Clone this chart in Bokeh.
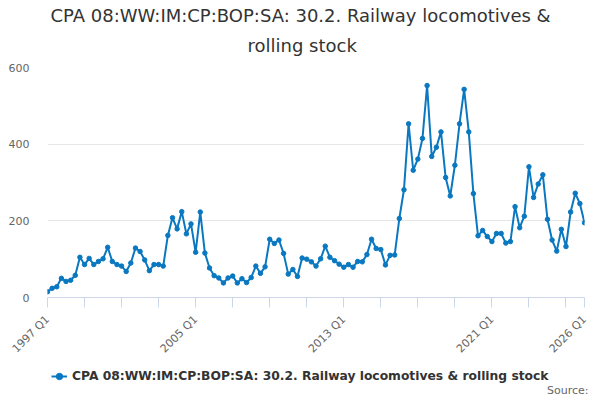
import math
from bokeh.plotting import figure
from bokeh.layouts import column
from bokeh.models import FixedTicker, Legend, LegendItem, Title, Label, Range1d
from bokeh.embed import file_html
from bokeh.resources import INLINE

series_name = "CPA 08:WW:IM:CP:BOP:SA: 30.2. Railway locomotives & rolling stock"
title_lines = ["CPA 08:WW:IM:CP:BOP:SA: 30.2. Railway locomotives &", "rolling stock"]

# quarterly values, 1997 Q1 .. 2026 Q1
values = [
    15, 24, 28, 50, 42, 45, 58, 105, 86, 102, 86, 94,          # 1997-1999
    101, 131, 94, 86, 82, 68, 90, 129, 120, 98, 70, 86,        # 2000-2002
    86, 82, 162, 208, 179, 224, 166, 192,                      # 2003-2004
    118, 223, 116, 77, 57, 51, 38, 51, 56, 38, 49, 39,         # 2005-2007
    52, 82, 63, 80, 152, 141, 150, 115, 61, 73, 55, 103,       # 2008-2010
    100, 93, 82, 101, 134, 105, 96, 87, 79, 86, 79, 94,        # 2011-2013
    93, 112, 152, 128, 125, 85, 110, 111, 206, 281, 453, 332,  # 2014-2016
    361, 415, 553, 368, 392, 432, 313, 265, 345, 453, 543, 432,  # 2017-2019
    271, 161, 175, 159, 146, 167, 167, 142, 146, 237, 182, 212,  # 2020-2022
    341, 261, 296, 320, 204, 150, 121, 178, 133, 223, 272, 245,  # 2023-2025
    195,                                                        # 2026 Q1
]

start_year = 1997
quarters = [f"{start_year + i // 4} Q{i % 4 + 1}" for i in range(len(values))]
labelled = ["1997 Q1", "2005 Q1", "2013 Q1", "2021 Q1", "2026 Q1"]
y_ticks = [0, 200, 400, 600]

x = list(range(len(values)))
blue = "#0a78c0"

p = figure(frame_width=537, frame_height=230, title=None, output_backend="svg",
           toolbar_location=None,
           x_range=Range1d(0, len(values) - 1), y_range=Range1d(0, 600),
           min_border_left=47, min_border_right=16, min_border_top=67,
           min_border_bottom=0)
p.outline_line_color = None

p.line(x, values, line_color=blue, line_width=2)
p.scatter(x, values, size=4.5, fill_color=blue, line_color=blue)

# x axis
tick_pos = list(range(0, len(values), 8)) + [len(values) - 1]
p.xaxis.ticker = FixedTicker(ticks=tick_pos)
p.xaxis.major_label_overrides = {
    i: (quarters[i] if quarters[i] in labelled else "") for i in tick_pos
}
p.xaxis.major_label_orientation = math.pi / 4
p.xaxis.axis_line_color = "#ccd6eb"
p.xaxis.major_tick_line_color = "#ccd6eb"
p.xaxis.major_tick_in = 0
p.xaxis.major_tick_out = 10
p.xaxis.minor_tick_line_color = None
p.xaxis.major_label_text_color = "#666666"
p.xaxis.major_label_text_font = "DejaVu Sans"
p.xaxis.major_label_text_font_size = "11px"
p.xaxis.major_label_standoff = 10
p.xgrid.grid_line_color = None

# y axis
p.yaxis.ticker = FixedTicker(ticks=y_ticks)
p.yaxis.axis_line_color = None
p.yaxis.major_tick_line_color = None
p.yaxis.minor_tick_line_color = None
p.yaxis.major_label_text_color = "#666666"
p.yaxis.major_label_text_font = "DejaVu Sans"
p.yaxis.major_label_text_font_size = "11px"
p.yaxis.major_label_standoff = 12
p.ygrid.grid_line_color = "#e6e6e6"

# two title lines centred on the page; the one added last sits on top
title_offsets = [200, 3]
title_standoffs = [24, -11]
for k, txt in enumerate(reversed(title_lines)):
    p.add_layout(Title(text=txt, align="left", offset=title_offsets[k],
                       text_font="DejaVu Sans", text_font_size="18px",
                       text_font_style="normal", text_color="#333333",
                       standoff=title_standoffs[k]), "above")

# strip below the chart holding the legend and the source note
foot_h = 36
foot = figure(frame_width=553, frame_height=foot_h, title=None,
              output_backend="svg", toolbar_location=None,
              x_range=Range1d(0, 553), y_range=Range1d(-foot_h, 0),
              min_border_left=47, min_border_right=0, min_border_top=0,
              min_border_bottom=0, x_axis_type=None, y_axis_type=None)
foot.outline_line_color = None
foot.grid.grid_line_color = None
# same series, kept outside the strip's ranges: only feeds the legend symbol
k_line = foot.line(x, values, line_color=blue, line_width=2)
k_dots = foot.scatter(x, values, size=4.5, fill_color=blue, line_color=blue)

legend = Legend(items=[LegendItem(label=series_name, renderers=[k_line, k_dots])],
                location=(4, foot_h - 23), orientation="horizontal",
                border_line_color=None, background_fill_alpha=0,
                label_text_font="DejaVu Sans", label_text_font_size="12.3px",
                label_text_font_style="bold", label_text_color="#333333",
                glyph_width=16, padding=2, margin=0)
foot.add_layout(legend, "center")

foot.add_layout(Label(x=541, y=-27, text="Source:", text_align="right",
                      text_baseline="middle", text_font="DejaVu Sans",
                      text_font_size="11px", text_color="#666666"))

open("out.html", "w").write(file_html(column(p, foot, spacing=0), INLINE))
